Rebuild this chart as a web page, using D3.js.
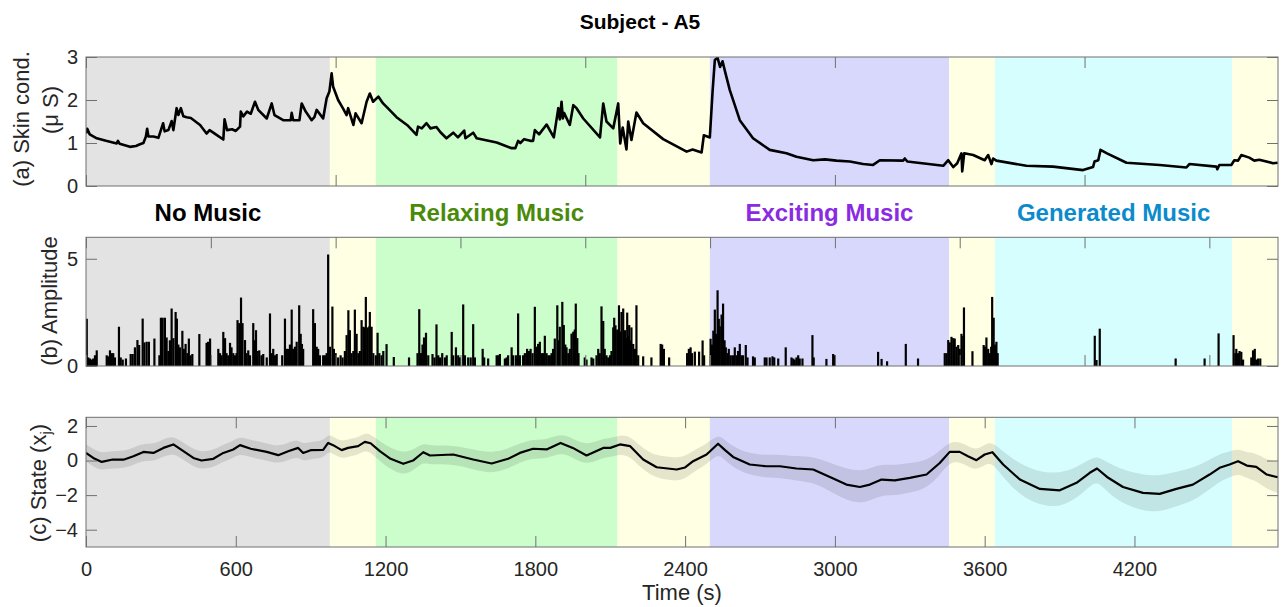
<!DOCTYPE html>
<html><head><meta charset="utf-8">
<script src="https://cdn.jsdelivr.net/npm/d3@7"></script>
<style>
body{margin:0;background:#fff;}
svg{display:block;font-family:"Liberation Sans",Arial,Helvetica,sans-serif;}
.tick text{fill:#262626;}
</style></head>
<body><svg id="chart" width="1281" height="607"></svg>
<script>
// ---------- DATA ----------
const regionStarts = [0, 977, 1161, 2129, 2499, 3457, 3641, 4592];
const regionEnds   = [977, 1161, 2129, 2499, 3457, 3641, 4592, 4775];
const regionKinds  = ["none","rest","relax","rest","excite","rest","gen","rest"];
const categoryNames = ["No Music","Relaxing Music","Exciting Music","Generated Music"];
const categoryKinds = ["none","relax","excite","gen"];

const xTicksA = [0,1000,2000,3000,4000];
const xTicksB = [0,500,1000,1500,2000,2500,3000,3500,4000,4500];
const xTicksC = [0,600,1200,1800,2400,3000,3600,4200];
const yTicksA = [0,1,2,3];
const yTicksB = [0,5];
const yTicksC = [-4,-2,0,2];

// (a) skin conductance [time s, µS]
const skinCond = [
[0,1.22],[5,1.33],[15,1.2],[43,1.11],[80,1.05],[123,0.99],[128,1.05],[135,0.98],[176,0.91],[200,0.93],
[216,0.97],[230,1.0],[240,1.15],[245,1.33],[250,1.15],[270,1.15],[290,1.12],[300,1.3],[309,1.46],[315,1.27],
[330,1.3],[343,1.51],[350,1.3],[363,1.81],[370,1.65],[380,1.81],[390,1.62],[403,1.6],[420,1.58],[457,1.42],
[483,1.22],[495,1.3],[523,1.19],[550,1.08],[555,1.55],[565,1.30],[585,1.32],[600,1.28],[617,1.38],[620,1.73],
[630,1.62],[645,1.73],[660,1.68],[677,1.96],[690,1.77],[724,1.57],[744,1.92],[755,1.65],[790,1.53],[820,1.53],
[824,1.70],[830,1.53],[855,1.53],[864,1.92],[880,1.73],[904,1.53],[915,1.6],[924,1.77],[950,1.57],[964,2.04],
[975,2.2],[984,2.62],[990,2.31],[1010,2.0],[1030,1.8],[1044,1.65],[1050,1.81],[1071,1.42],[1080,1.69],[1104,1.46],
[1124,1.96],[1137,2.15],[1150,1.96],[1171,2.08],[1190,1.92],[1204,1.84],[1244,1.6],[1290,1.4],[1324,1.19],[1330,1.38],
[1345,1.34],[1364,1.46],[1380,1.34],[1404,1.37],[1420,1.25],[1444,1.11],[1471,1.24],[1490,1.13],[1515,1.29],[1520,1.11],
[1551,1.24],[1565,1.11],[1645,1.01],[1705,0.88],[1720,0.88],[1731,1.05],[1740,1.0],[1755,1.09],[1780,1.05],[1791,1.05],
[1798,1.3],[1815,1.2],[1845,1.43],[1874,1.13],[1892,1.81],[1898,1.55],[1905,1.96],[1910,1.57],[1915,1.7],[1938,1.42],
[1952,1.88],[1965,1.81],[1992,1.57],[2059,1.13],[2072,1.92],[2085,1.5],[2112,1.34],[2132,1.92],[2140,0.99],[2150,1.36],
[2165,0.85],[2172,1.5],[2185,1.07],[2205,1.71],[2232,1.46],[2312,1.09],[2406,0.80],[2430,0.85],[2466,0.78],[2475,1.18],
[2499,1.13],[2510,2.2],[2519,2.93],[2530,2.98],[2540,2.77],[2550,2.9],[2560,2.66],[2579,2.23],[2619,1.53],[2672,1.11],
[2739,0.84],[2806,0.76],[2846,0.68],[2913,0.60],[2960,0.62],[3006,0.59],[3060,0.57],[3113,0.51],[3153,0.49],[3180,0.60],
[3273,0.59],[3280,0.64],[3290,0.57],[3434,0.47],[3454,0.60],[3474,0.44],[3490,0.53],[3507,0.76],[3510,0.34],[3518,0.76],
[3554,0.72],[3600,0.60],[3614,0.72],[3627,0.51],[3634,0.64],[3647,0.59],[3767,0.47],[3874,0.45],[3994,0.37],[4034,0.44],
[4040,0.57],[4055,0.60],[4064,0.84],[4090,0.76],[4168,0.54],[4301,0.49],[4408,0.43],[4420,0.51],[4528,0.45],[4532,0.39],
[4540,0.49],[4588,0.49],[4600,0.60],[4615,0.59],[4628,0.72],[4660,0.66],[4680,0.59],[4700,0.61],[4755,0.53],[4774,0.54]
];

// (b) amplitude stems [time s, amplitude]
const amplitude = [
[3,2.2],[9,0.4],[16,0.35],[23,0.3],[29,0.35],[36,0.5],[43,0.73],[83,0.5],[89,0.45],[96,0.73],[103,0.6],[109,0.6],[116,0.4],
[132,1.83],[139,0.4],[147,0.3],[160,0.35],[179,0.56],[187,0.56],[196,0.87],[206,1.21],[213,0.98],[227,2.21],[234,1.1],
[243,1.13],[252,1.13],[274,1.28],[294,0.5],[300,2.25],[307,2.25],[316,2.25],[323,1.33],[330,0.7],[336,1.2],[343,2.68],
[350,1.3],[359,2.52],[364,2.21],[370,1.0],[376,0.87],[386,1.64],[392,0.8],[399,1.03],[406,0.6],[412,1.28],[419,0.5],[426,0.56],
[454,1.49],[483,1.08],[489,1.13],[497,1.28],[530,0.8],[537,0.6],[543,0.5],[550,1.59],[557,1.3],[563,0.6],[570,0.5],[577,1.08],
[583,0.87],[590,0.6],[597,0.5],[603,0.6],[607,2.14],[614,2.0],[621,3.19],[627,2.0],[637,1.21],[643,0.6],[650,0.73],[657,0.5],
[670,2.0],[677,1.2],[681,1.67],[687,0.7],[694,0.73],[703,0.5],[710,0.56],[724,0.4],[737,2.45],[744,0.6],[750,0.8],[757,0.5],
[764,0.56],[786,0.5],[797,2.21],[804,0.8],[810,0.8],[817,1.0],[824,2.63],[830,0.8],[837,0.9],[844,1.13],[854,2.83],[860,1.5],
[865,1.03],[870,0.8],[910,2.65],[917,2.0],[924,0.9],[930,0.8],[937,0.5],[950,0.5],[957,0.5],[964,0.6],[970,5.2],[977,0.9],
[987,2.77],[993,0.8],[1000,0.6],[1010,0.4],[1020,0.5],[1028,0.4],[1037,0.7],[1044,1.44],[1051,2.6],[1057,1.67],[1064,0.6],
[1071,0.7],[1077,2.63],[1084,1.5],[1091,0.6],[1097,0.7],[1104,2.14],[1111,1.83],[1117,1.8],[1121,3.22],[1128,1.8],[1135,1.85],
[1137,2.52],[1144,1.83],[1151,0.6],[1161,0.5],[1168,1.55],[1175,0.6],[1184,0.5],[1191,0.7],[1204,1.02],[1233,0.42],[1294,0.4],
[1328,0.6],[1335,2.65],[1342,0.6],[1348,1.0],[1354,1.33],[1362,1.55],[1371,0.5],[1388,0.56],[1396,0.4],[1404,1.94],[1411,0.5],
[1418,0.4],[1427,0.6],[1438,0.4],[1445,0.5],[1465,1.59],[1471,0.5],[1482,0.87],[1491,0.5],[1498,0.4],[1511,2.87],[1518,0.5],
[1531,0.4],[1541,0.4],[1551,1.95],[1558,0.4],[1589,0.8],[1595,0.4],[1611,0.35],[1645,0.5],[1651,0.5],[1658,0.56],[1678,0.35],
[1685,0.4],[1691,0.5],[1705,0.87],[1711,0.5],[1722,0.5],[1731,2.45],[1738,0.5],[1751,0.5],[1758,0.6],[1767,0.8],[1774,0.7],
[1781,0.8],[1789,0.6],[1798,2.76],[1805,0.9],[1811,1.03],[1818,1.13],[1825,0.6],[1831,0.6],[1838,1.41],[1845,0.6],[1852,0.5],
[1858,0.5],[1865,0.6],[1871,0.8],[1878,1.28],[1888,2.83],[1893,1.2],[1898,1.83],[1908,2.99],[1914,1.91],[1920,1.0],[1925,0.87],
[1932,0.6],[1938,0.8],[1945,1.51],[1952,1.6],[1958,1.7],[1962,2.91],[1968,1.3],[1973,0.6],[1998,0.4],[2005,0.3],[2025,0.4],
[2032,0.35],[2045,0.5],[2052,0.8],[2058,0.6],[2065,2.78],[2072,2.1],[2078,0.8],[2085,0.5],[2092,0.4],[2099,0.5],[2105,0.7],
[2112,1.8],[2116,2.25],[2121,1.9],[2128,1.7],[2135,2.83],[2140,1.6],[2145,2.52],[2152,2.68],[2159,1.67],[2164,1.3],[2168,2.49],
[2172,1.4],[2176,1.91],[2181,1.2],[2185,1.8],[2192,1.03],[2199,0.8],[2205,2.83],[2212,0.5],[2232,0.45],[2265,0.4],[2302,1.03],
[2308,1.0],[2315,0.8],[2336,0.4],[2408,0.6],[2415,0.8],[2422,0.87],[2428,0.6],[2439,0.67],[2456,0.67],[2470,1.19],[2476,0.5],
[2502,1.27],[2508,1.0],[2513,1.65],[2519,2.63],[2524,1.5],[2530,3.53],[2535,2.2],[2539,1.85],[2546,2.4],[2552,2.91],[2558,1.2],
[2563,0.87],[2570,0.6],[2575,0.8],[2583,0.5],[2592,0.5],[2599,0.87],[2606,0.5],[2612,0.7],[2619,1.03],[2626,0.5],[2632,0.5],
[2643,0.98],[2650,0.4],[2672,0.45],[2679,0.4],[2719,0.4],[2726,0.4],[2739,0.4],[2750,0.45],[2757,0.4],[2773,0.35],[2803,0.87],
[2826,0.4],[2833,0.35],[2839,0.3],[2846,0.4],[2853,0.5],[2859,0.35],[2870,0.35],[2910,1.44],[2915,0.4],[2966,0.33],[2993,0.56],
[3000,0.5],[3173,0.66],[3187,0.33],[3209,0.22],[3284,1.03],[3333,0.35],[3440,0.6],[3447,0.6],[3454,1.21],[3460,1.1],[3467,1.36],
[3474,1.3],[3480,1.28],[3487,0.9],[3494,0.98],[3500,0.8],[3507,1.5],[3514,1.4],[3517,2.73],[3551,0.69],[3596,0.98],[3601,0.9],
[3607,1.33],[3614,0.8],[3620,0.6],[3626,0.9],[3630,3.22],[3636,2.25],[3641,1.0],[3647,1.13],[3652,0.6],[4041,1.41],[4048,0.28],
[4061,1.74],[4365,0.35],[4481,0.35],[4537,1.52],[4597,1.44],[4604,0.6],[4608,0.8],[4615,0.6],[4621,0.7],[4628,0.66],[4635,0.3],
[4668,0.4],[4675,0.73],[4682,0.8],[4688,0.3],[4695,0.35],[4704,0.35]
];

// (c) state estimate [time s, state, half-width of band]
const state = [
[0,0.44,0.5],[29,0.15,0.5],[63,-0.08,0.5],[107,0.06,0.5],[150,0.05,0.5],[190,0.25,0.5],[230,0.5,0.5],[270,0.44,0.5],
[310,0.73,0.5],[350,0.93,0.5],[390,0.54,0.5],[430,0.15,0.5],[463,0.0,0.5],[510,0.1,0.5],[550,0.44,0.5],[590,0.64,0.5],
[617,0.89,0.5],[660,0.68,0.5],[724,0.5,0.5],[770,0.31,0.5],[810,0.54,0.5],[850,0.73,0.5],[870,0.44,0.5],[900,0.6,0.5],
[950,0.62,0.5],[970,1.02,0.5],[990,0.89,0.5],[1024,0.6,0.5],[1050,0.73,0.5],[1090,0.83,0.5],[1117,1.08,0.5],[1140,1.0,0.52],
[1177,0.54,0.58],[1220,0.1,0.62],[1271,-0.19,0.65],[1310,0.0,0.6],[1351,0.48,0.55],[1378,0.29,0.55],[1471,0.35,0.55],
[1551,0.06,0.58],[1625,-0.17,0.6],[1691,0.1,0.58],[1738,0.44,0.55],[1791,0.68,0.55],[1845,0.64,0.55],[1901,1.02,0.55],
[1950,0.73,0.55],[2005,0.29,0.58],[2072,0.73,0.55],[2100,0.73,0.55],[2139,0.93,0.55],[2180,0.83,0.58],[2232,0.06,0.62],
[2286,-0.39,0.65],[2366,-0.52,0.68],[2400,-0.4,0.65],[2432,-0.04,0.62],[2486,0.35,0.6],[2532,0.97,0.55],[2560,0.6,0.58],
[2592,0.21,0.6],[2659,-0.23,0.62],[2726,-0.33,0.65],[2780,-0.33,0.68],[2846,-0.46,0.7],[2913,-0.52,0.75],[2980,-0.95,0.82],
[3046,-1.39,0.9],[3100,-1.53,0.93],[3140,-1.39,0.93],[3187,-1.1,0.9],[3240,-1.15,0.88],[3300,-1.0,0.86],[3367,-0.81,0.8],
[3420,-0.14,0.7],[3460,0.5,0.6],[3500,0.5,0.58],[3533,0.25,0.58],[3567,0.02,0.58],[3600,0.35,0.58],[3631,0.48,0.6],
[3674,-0.23,0.75],[3741,-1.1,0.9],[3821,-1.64,0.96],[3901,-1.72,0.98],[3968,-1.29,0.9],[4021,-0.71,0.78],[4050,-0.46,0.72],
[4090,-0.95,0.85],[4154,-1.53,0.98],[4234,-1.87,1.04],[4301,-1.93,1.05],[4368,-1.64,1.0],[4434,-1.39,0.95],[4501,-0.81,0.85],
[4541,-0.42,0.8],[4581,-0.23,0.75],[4615,-0.04,0.72],[4650,-0.29,0.75],[4688,-0.37,0.8],[4730,-0.81,0.85],[4774,-0.97,0.9]
];

// ---------- STYLE ----------
const bgColor = {none:"#e3e3e3", rest:"#ffffe4", relax:"#ccfecc", excite:"#d8d8fd", gen:"#d7fefe"};
const labelColor = {none:"#000000", relax:"#4a8a0a", excite:"#8a2be2", gen:"#0b8bcc"};
const axisColor = "#707070";
const FONT = '"Liberation Sans",Arial,Helvetica,sans-serif';

const svg = d3.select("#chart");
const x = d3.scaleLinear().domain([0, 4775]).range([86, 1278]);

const panels = [
  {id:"a", top:57, bottom:186, domain:[0,3], yt:yTicksA, xt:xTicksA},
  {id:"b", top:237.3, bottom:366, domain:[0,6], yt:yTicksB, xt:xTicksB},
  {id:"c", top:417.3, bottom:547, domain:[-5,2.5], yt:yTicksC, xt:xTicksC}
];
panels.forEach(p => { p.y = d3.scaleLinear().domain(p.domain).range([p.bottom, p.top]); });

const regions = regionStarts.map((s,i)=>({s, e:regionEnds[i], k:regionKinds[i]}));

panels.forEach(p => {
  const g = svg.append("g");
  const clipId = "clip-"+p.id;
  svg.append("clipPath").attr("id", clipId).append("rect")
    .attr("x", x.range()[0]).attr("y", p.top)
    .attr("width", x.range()[1]-x.range()[0]).attr("height", p.bottom-p.top);
  g.selectAll("rect.bg").data(regions).join("rect")
    .attr("x", d=>x(d.s)).attr("width", d=>x(d.e)-x(d.s))
    .attr("y", p.top).attr("height", p.bottom-p.top)
    .attr("fill", d=>bgColor[d.k]);
  p.g = g.append("g").attr("clip-path", `url(#${clipId})`);
});

// (a) skin conductance line
{
  const p = panels[0];
  p.g.append("path").datum(skinCond)
    .attr("d", d3.line().x(d=>x(d[0])).y(d=>p.y(d[1])))
    .attr("fill","none").attr("stroke","#000").attr("stroke-width",2.6).attr("stroke-linejoin","round");
}
// (b) amplitude stems
{
  const p = panels[1];
  p.g.selectAll("line.stem").data(amplitude).join("line")
    .attr("x1", d=>x(d[0])).attr("x2", d=>x(d[0]))
    .attr("y1", p.y(0)).attr("y2", d=>p.y(d[1]))
    .attr("stroke","#000").attr("stroke-width",2.2);
}
// (c) state band + line
{
  const p = panels[2];
  p.g.append("path").datum(state)
    .attr("d", d3.area().x(d=>x(d[0])).y0(d=>p.y(d[1]-d[2])).y1(d=>p.y(d[1]+d[2])).curve(d3.curveBasis))
    .attr("fill","#000").attr("fill-opacity",0.1);
  p.g.append("path").datum(state)
    .attr("d", d3.line().x(d=>x(d[0])).y(d=>p.y(d[1])))
    .attr("fill","none").attr("stroke","#000").attr("stroke-width",2.2).attr("stroke-linejoin","round");
}

// axes
panels.forEach((p,i) => {
  const fs = "20px";
  const bottom = svg.append("g").attr("transform",`translate(0,${p.bottom})`)
    .call(d3.axisBottom(x).tickValues(p.xt).tickSize(-11).tickPadding(15)
      .tickFormat(i===2 ? d3.format("d") : ()=>""));
  const top = svg.append("g").attr("transform",`translate(0,${p.top})`)
    .call(d3.axisTop(x).tickValues(p.xt).tickSize(-11).tickFormat(()=>""));
  const left = svg.append("g").attr("transform",`translate(${x.range()[0]},0)`)
    .call(d3.axisLeft(p.y).tickValues(p.yt).tickSize(-11).tickPadding(8).tickFormat(d3.format("d")));
  const right = svg.append("g").attr("transform",`translate(${x.range()[1]},0)`)
    .call(d3.axisRight(p.y).tickValues(p.yt).tickSize(-11).tickFormat(()=>""));
  [bottom,top,left,right].forEach(a=>{
    a.select(".domain").remove();
    a.selectAll(".tick line").attr("stroke",axisColor).attr("stroke-width",1);
    a.selectAll(".tick text").attr("font-size",fs).attr("fill","#262626").attr("font-family",FONT);
  });
  svg.append("rect").attr("x",x.range()[0]).attr("y",p.top)
    .attr("width",x.range()[1]-x.range()[0]).attr("height",p.bottom-p.top)
    .attr("fill","none").attr("stroke",axisColor).attr("stroke-width",1);
});

// title
svg.append("text").attr("x",640).attr("y",29).attr("text-anchor","middle")
  .attr("font-size","21px").attr("font-weight","bold").attr("fill","#000").text("Subject - A5");

// category labels
categoryKinds.forEach((k,i)=>{
  const r = regions.find(d=>d.k===k);
  svg.append("text").attr("x", x((r.s+r.e)/2)).attr("y",221).attr("text-anchor","middle")
    .attr("font-size","24px").attr("font-weight","bold").attr("fill",labelColor[k]).text(categoryNames[i]);
});

// y labels
function ylab(xb, yc, txt){
  return svg.append("text").attr("transform",`translate(${xb},${yc}) rotate(-90)`)
    .attr("text-anchor","middle").attr("font-size","22px").attr("fill","#262626").text(txt);
}
ylab(29, 119, "(a) Skin cond.");
ylab(58, 110, "(\u03bc S)");
ylab(57, 301, "(b) Amplitude");
const lc = svg.append("text").attr("transform",`translate(46,483) rotate(-90)`)
  .attr("text-anchor","middle").attr("font-size","22px").attr("fill","#262626");
lc.append("tspan").text("(c) State (x");
lc.append("tspan").attr("font-size","15px").attr("dy","5").text("j");
lc.append("tspan").attr("dy","-5").text(")");

// x label
svg.append("text").attr("x",682).attr("y",600).attr("text-anchor","middle")
  .attr("font-size","22px").attr("fill","#262626").text("Time (s)");
</script></body></html>
